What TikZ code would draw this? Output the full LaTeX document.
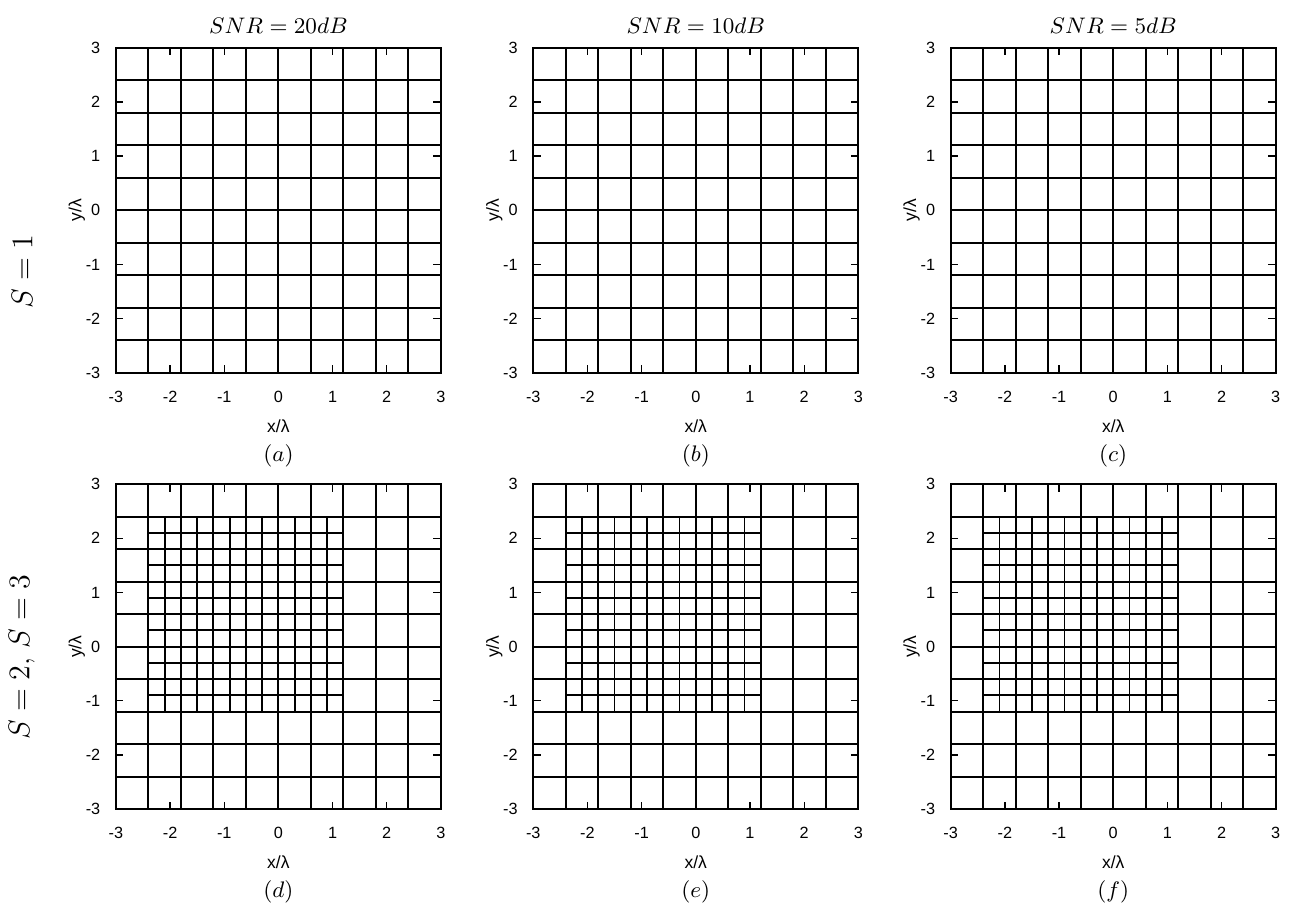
\documentclass[tikz,border=0pt]{standalone}
\usepackage{fontspec}
\newfontfamily\plotfont{Liberation Sans}

\tikzset{
  coarse/.style={line width=0.8pt},
  fine/.style={line width=0.7pt},
  tick/.style={line width=0.5pt},
  ticklabel/.style={font=\plotfont\fontsize{6.5}{7}\selectfont, inner sep=0pt},
  axislabel/.style={font=\plotfont\fontsize{7}{8}\selectfont, inner sep=0pt},
  plottitle/.style={font=\fontsize{9.5}{11}\selectfont, inner sep=0pt},
  plotcaption/.style={font=\fontsize{9.5}{11}\selectfont, inner sep=0pt},
  rowlabel/.style={font=\fontsize{11.5}{13}\selectfont, rotate=90, inner sep=0pt}
}

\begin{document}
\begin{tikzpicture}[x=0.4pt, y=0.4pt]
\useasboundingbox (0,0) rectangle (1298,911);

% Row labels
\node[rowlabel] (rowone) at (22,639) {$S=1$};
\node[rowlabel] (rowtwo) at (22,254) {$S=2$, $S=3$};

% Column titles
\foreach \cx/\snr in {278.4/20, 695.8/10, 1113.2/5}
  \node[plottitle] (title-\snr) at (\cx,885.6) {$SNR=\snr dB$};

% Draw the six panels
\foreach \cx/\cy/\lab/\refine in {278.4/700.7/a/0, 695.8/700.7/b/0, 1113.2/700.7/c/0,
                                  278.4/264.4/d/1, 695.8/264.4/e/1, 1113.2/264.4/f/1} {
\begin{scope}[shift={(\cx,\cy)}, x=21.667pt, y=21.667pt]
  % coarse grid
  \foreach \i in {1,...,9} {
    \draw[coarse] (-3+0.6*\i,-3) -- (-3+0.6*\i,3);
    \draw[coarse] (-3,-3+0.6*\i) -- (3,-3+0.6*\i);
  }
  % refined part
  \ifnum\refine=1
    \foreach \j in {1,...,11} {
      \draw[fine] (-2.4+0.3*\j,-1.2) -- (-2.4+0.3*\j,2.4);
      \draw[fine] (-2.4,-1.2+0.3*\j) -- (1.2,-1.2+0.3*\j);
    }
  \fi
  \draw[coarse] (-3,-3) rectangle (3,3);
  % ticks
  \foreach \t in {-2,...,2} {
    \draw[tick] (\t,-3) -- ++(0,0.14);
    \draw[tick] (\t,3) -- ++(0,-0.14);
    \draw[tick] (-3,\t) -- ++(0.14,0);
    \draw[tick] (3,\t) -- ++(-0.14,0);
  }
  \foreach \t in {-3,...,3} {
    \node[ticklabel] at (\t,-3.44) {\t};
    \node[ticklabel, anchor=east] at (-3.28,\t) {\t};
  }
  \node[axislabel] (xlab-\lab) at (0,-3.98) {x/λ};
  \node[axislabel, rotate=90] (ylab-\lab) at (-3.72,0) {y/λ};
  \node[plotcaption] (cap-\lab) at (0,-4.53) {$(\lab)$};
\end{scope}
}

\end{tikzpicture}
\end{document}
